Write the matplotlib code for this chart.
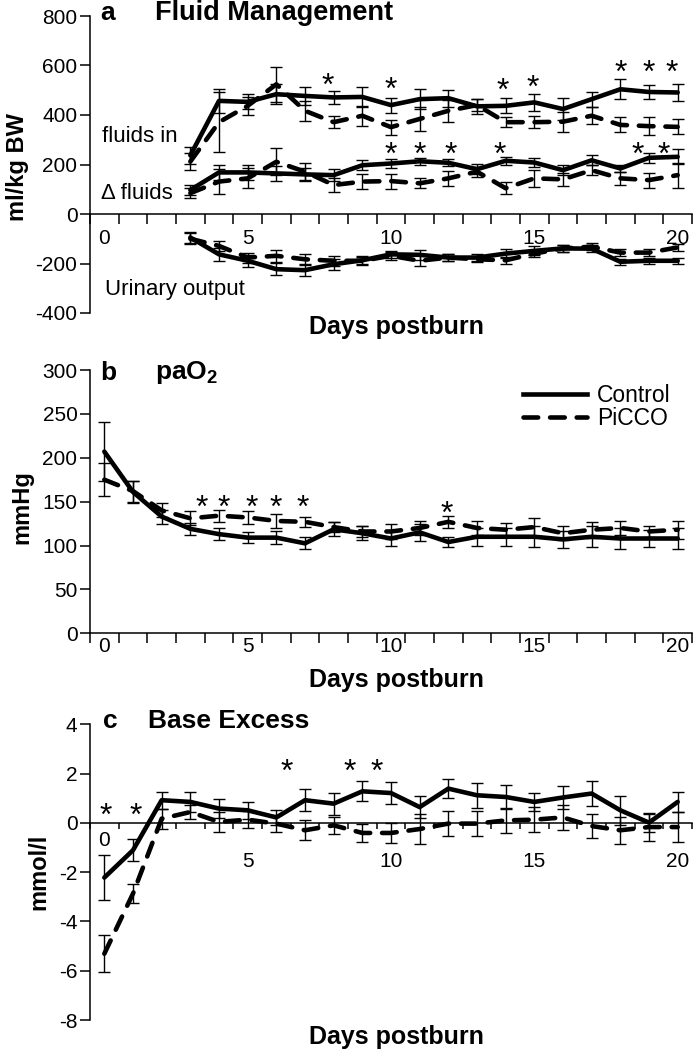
import matplotlib
matplotlib.use('Agg')
import matplotlib.pyplot as plt
import numpy as np
from matplotlib.lines import Line2D

plt.rcParams['font.family'] = ['Liberation Sans', 'DejaVu Sans']
plt.rcParams['mathtext.fontset'] = 'custom'
plt.rcParams['mathtext.bf'] = 'Liberation Sans:bold'
plt.rcParams['mathtext.rm'] = 'Liberation Sans'

# ---------------- data ----------------
days_a = list(range(3, 21))
ctrl_in = [237, 457, 453, 484, 477, 471, 473, 440, 464, 468, 435, 437, 451, 424, 464, 504, 493, 491]
ctrl_in_err = [35, 50, 30, 40, 35, 27, 40, 30, 40, 35, 30, 30, 35, 45, 30, 40, 30, 35]
picco_in = [212, 371, 437, 524, 417, 371, 397, 351, 384, 417, 440, 371, 371, 373, 397, 360, 355, 352]
picco_in_err = [35, 120, 35, 70, 40, 25, 40, 30, 50, 45, 25, 20, 25, 40, 35, 30, 35, 30]

ctrl_d = [97, 168, 168, 164, 160, 157, 197, 204, 213, 207, 181, 215, 208, 177, 217, 184, 227, 231]
ctrl_d_err = [20, 30, 30, 30, 25, 25, 20, 20, 15, 15, 20, 15, 20, 20, 20, 15, 20, 30]
picco_d = [84, 131, 144, 211, 171, 117, 131, 133, 124, 144, 171, 104, 144, 140, 177, 144, 137, 157]
picco_d_err = [20, 50, 40, 55, 35, 30, 30, 30, 20, 30, 20, 25, 35, 25, 20, 25, 30, 50]

ctrl_u = [-95, -163, -189, -223, -227, -203, -187, -163, -165, -176, -176, -160, -149, -139, -140, -193, -189, -189]
ctrl_u_err = [22, 25, 25, 25, 25, 22, 18, 15, 20, 15, 15, 18, 18, 15, 15, 12, 12, 12]
picco_u = [-100, -129, -176, -169, -183, -189, -189, -169, -189, -176, -183, -187, -160, -139, -132, -156, -156, -135]
picco_u_err = [22, 20, 20, 25, 22, 20, 15, 15, 22, 15, 12, 15, 15, 15, 15, 15, 15, 15]

star_a_in_days = [7.8, 10, 13.9, 14.95, 18, 19, 19.8]
star_a_in_vals = [557, 544, 540, 550, 611, 611, 611]
star_a_d_days = [10, 11, 12.1, 13.8, 18.6, 19.5]
star_a_d_vals = [280, 280, 280, 280, 280, 280]

days_b = list(range(0, 21))
ctrl_b = [207, 161, 133, 119, 113, 109, 109, 102.5, 118.5, 114, 108, 115, 104, 110, 110, 110, 107, 110, 108, 108, 108]
ctrl_b_err = [34, 12, 8, 7, 7, 6, 7, 7, 8, 8, 9, 10, 6, 10, 10, 12, 10, 12, 12, 10, 12]
picco_b = [175, 162, 140, 131, 134, 132, 128, 127, 121, 116, 116, 120, 127, 120, 118, 121, 114, 118, 120, 116, 118]
picco_b_err = [19, 12, 8, 8, 7, 7, 8, 6, 6, 6, 8, 8, 7, 8, 8, 10, 8, 9, 8, 6, 10]
star_b_days = [3.38, 4.16, 5.13, 5.98, 6.93, 11.96]
star_b_vals = [154, 154, 154, 154, 154, 148]

days_c = list(range(0, 21))
ctrl_c = [-2.22, -1.11, 0.92, 0.85, 0.58, 0.51, 0.22, 0.92, 0.78, 1.28, 1.21, 0.64, 1.39, 1.12, 1.05, 0.85, 1.03, 1.19, 0.51, 0.01, 0.85]
ctrl_c_err = [0.9, 0.45, 0.35, 0.4, 0.4, 0.35, 0.3, 0.45, 0.45, 0.4, 0.45, 0.45, 0.4, 0.5, 0.5, 0.35, 0.45, 0.5, 0.6, 0.4, 0.4]
picco_c = [-5.31, -2.87, 0.17, 0.44, 0.04, 0.13, -0.03, -0.30, -0.10, -0.41, -0.41, -0.25, -0.03, -0.03, 0.10, 0.13, 0.22, -0.13, -0.30, -0.17, -0.17]
picco_c_err = [0.75, 0.4, 0.4, 0.3, 0.4, 0.35, 0.35, 0.4, 0.35, 0.35, 0.4, 0.6, 0.5, 0.5, 0.5, 0.5, 0.5, 0.5, 0.55, 0.55, 0.6]
star_c_days = [0.06, 1.1, 6.37, 8.55, 9.5]
star_c_vals = [0.69, 0.69, 2.47, 2.47, 2.47]

xtick_vals = [0, 5, 10, 15, 20]
yticks_a = [-400, -200, 0, 200, 400, 600, 800]
yticks_b = [0, 50, 100, 150, 200, 250, 300]
yticks_c = [-8, -6, -4, -2, 0, 2, 4]

# ---------------- figure ----------------
W, H = 693, 1050
fig = plt.figure(figsize=(W / 100, H / 100), dpi=100)


def px_axes(x0, x1, ytop, ybot):
    return fig.add_axes([x0 / W, 1 - ybot / H, (x1 - x0) / W, (ybot - ytop) / H])


def ftext(x, y, s, **kw):
    return fig.text(x / W, 1 - y / H, s, **kw)


LW = 3.3
DASH = (3.2, 2.6)


def series(ax, x, y, e, dashed, label=None):
    ax.errorbar(x, y, yerr=e, fmt='none', ecolor='black', elinewidth=1.0,
                capsize=4, capthick=1.0, zorder=2)
    if dashed:
        ln, = ax.plot(x, y, color='black', lw=LW, zorder=3, label=label,
                      solid_capstyle='round', dash_capstyle='round')
        ln.set_dashes(DASH)
    else:
        ln, = ax.plot(x, y, color='black', lw=LW, zorder=4, label=label,
                      solid_capstyle='round', solid_joinstyle='round')
    return ln


def stars(ax, xs, ys, fs=23):
    for xv, yv in zip(xs, ys):
        ax.annotate('*', (xv, yv), xytext=(0, -0.6 * fs), textcoords='offset points',
                    ha='center', va='baseline', fontsize=fs, zorder=5)


def style(ax, ylim, yticks, xpad, xtl=7, show_xlabels=True):
    ax.set_xlim(-0.5, 20.5)
    ax.set_ylim(*ylim)
    for s in ['top', 'right']:
        ax.spines[s].set_visible(False)
    ax.spines['bottom'].set_position(('data', 0))
    ax.spines['left'].set_linewidth(1.1)
    ax.spines['bottom'].set_linewidth(1.1)
    ax.set_xticks(xtick_vals)
    ax.set_xticklabels([str(v) for v in xtick_vals] if show_xlabels else [''] * len(xtick_vals))
    ax.set_xticks(np.arange(-0.5, 20.6, 1.0), minor=True)
    ax.tick_params(axis='x', which='major', length=0, pad=xpad, labelsize=15)
    ax.tick_params(axis='x', which='minor', length=xtl, width=1.1, direction='out')
    ax.set_yticks(yticks)
    ax.set_yticklabels([str(v) for v in yticks])
    ax.tick_params(axis='y', length=7, width=1.1, direction='out', pad=2, labelsize=15)
    ax.patch.set_alpha(0)


# ---------- panel a ----------
axA = px_axes(90, 692, 16, 313)
style(axA, (-400, 800), yticks_a, xpad=11)
series(axA, days_a, picco_in, picco_in_err, True)
series(axA, days_a, ctrl_in, ctrl_in_err, False)
series(axA, days_a, picco_d, picco_d_err, True)
series(axA, days_a, ctrl_d, ctrl_d_err, False)
series(axA, days_a, picco_u, picco_u_err, True)
series(axA, days_a, ctrl_u, ctrl_u_err, False)
stars(axA, star_a_in_days, star_a_in_vals)
stars(axA, star_a_d_days, star_a_d_vals)
axA.set_ylabel('ml/kg BW', fontsize=17, fontweight='bold')
axA.yaxis.set_label_coords((29 - 90) / 602, 0.49)
ftext(102, 137, 'fluids in', fontsize=16, va='center', ha='left')
ftext(101, 193, 'Δ fluids', fontsize=16, va='center', ha='left')
ftext(105, 290, 'Urinary output', fontsize=16, va='center', ha='left')
ftext(100, 13, 'a', fontsize=19, fontweight='bold', va='center', ha='left')
ftext(155, 13, 'Fluid Management', fontsize=19.5, fontweight='bold', va='center', ha='left')
ftext(396, 327, 'Days postburn', fontsize=18, fontweight='bold', va='center', ha='center')

# ---------- panel b ----------
axB = px_axes(90, 692, 370, 633.3)
style(axB, (0, 300), yticks_b, xpad=3)
series(axB, days_b, picco_b, picco_b_err, True)
series(axB, days_b, ctrl_b, ctrl_b_err, False)
stars(axB, star_b_days, star_b_vals)
axB.set_ylabel('mmHg', fontsize=17, fontweight='bold')
axB.yaxis.set_label_coords((33 - 90) / 602, 0.48)
hC = Line2D([], [], color='black', lw=LW)
hP = Line2D([], [], color='black', lw=LW, dashes=DASH, dash_capstyle='round')
axB.legend([hC, hP], ['Control', 'PiCCO'], loc='upper left',
           bbox_to_anchor=((523 - 90) / 602, (633.3 - 384) / 263.3),
           frameon=False, fontsize=16.5, handlelength=2.8, handletextpad=0.42,
           labelspacing=0.0, borderpad=0, borderaxespad=0)
ftext(100, 373, 'b', fontsize=19, fontweight='bold', va='center', ha='left')
ftext(155, 373, r'$\mathbf{paO_2}$', fontsize=19, va='center', ha='left')
ftext(396, 680, 'Days postburn', fontsize=18, fontweight='bold', va='center', ha='center')

# ---------- panel c ----------
axC = px_axes(90, 692, 724.3, 1020)
style(axC, (-8, 4), yticks_c, xpad=3, xtl=4, show_xlabels=False)
# tick labels of panel c sit low, the first one higher (as in the reference)
for i, v in enumerate(xtick_vals):
    off = 13 if i == 0 else 28
    axC.annotate(str(v), (v, 0), xytext=(0, -off), textcoords='offset points',
                 ha='center', va='center', fontsize=15)
series(axC, days_c, picco_c, picco_c_err, True)
series(axC, days_c, ctrl_c, ctrl_c_err, False)
stars(axC, star_c_days, star_c_vals)
axC.set_ylabel('mmol/l', fontsize=17, fontweight='bold')
axC.yaxis.set_label_coords((50 - 90) / 602, 0.50)
ftext(103, 721, 'c', fontsize=19, fontweight='bold', va='center', ha='left')
ftext(148, 721, 'Base Excess', fontsize=19, fontweight='bold', va='center', ha='left')
ftext(396, 1037, 'Days postburn', fontsize=18, fontweight='bold', va='center', ha='center')

fig.savefig('out.png', dpi=100)
